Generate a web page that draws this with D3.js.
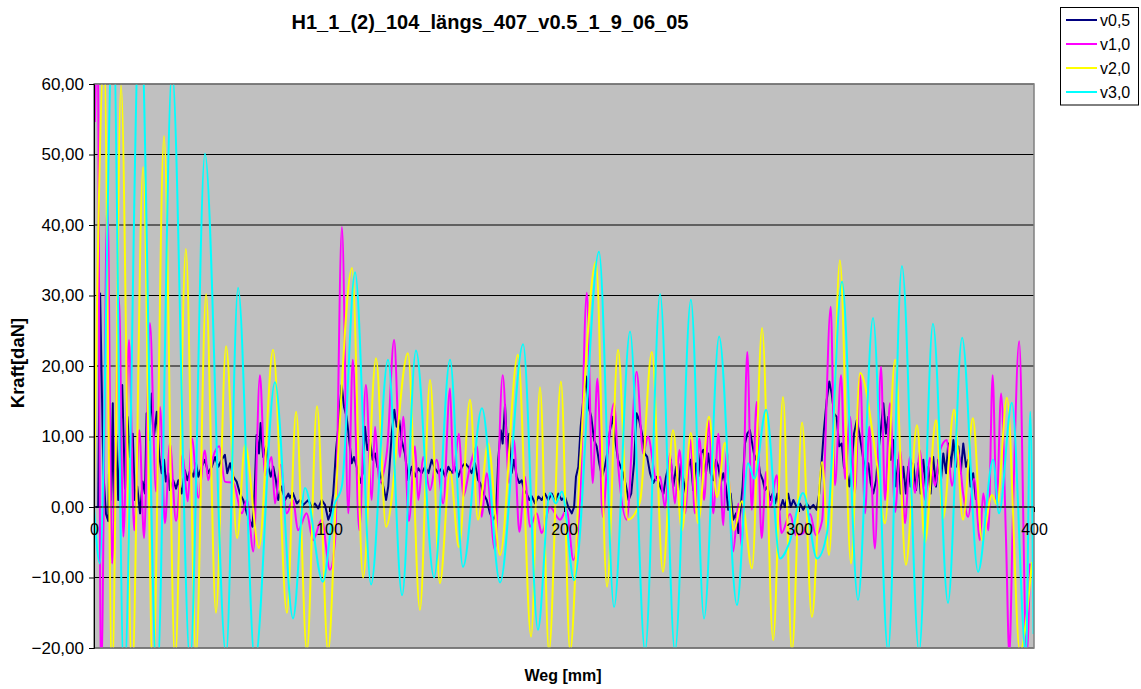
<!DOCTYPE html>
<html>
<head>
<meta charset="utf-8">
<script src="https://cdn.jsdelivr.net/npm/d3@7"></script>
<style>
  body { margin: 0; background: #ffffff; }
  text { font-family: Arial, "Liberation Sans", sans-serif; fill: #000; }
</style>
</head>
<body>
<svg id="chart" width="1141" height="689"></svg>
<script>
// Axis ticks
const xTicks = [0, 100, 200, 300, 400];
const yTicks = [-20, -10, 0, 10, 20, 30, 40, 50, 60];

// Series names and colours
const seriesNames = ["v0,5", "v1,0", "v2,0", "v3,0"];
const seriesColors = ["#000080", "#FF00FF", "#FFFF00", "#00FFFF"];

// Weg [mm], Kraft [daN] — v0,5
const v05 = [[0.9,0],[1.8,0],[2.6,30.3],[4.0,4.8],[5.1,-1],[6.1,-2],[6.5,8],[7.2,1],[8.0,14.7],[8.5,-2],[9.4,10.4],[10.3,1],
[12.0,17.3],[13.2,2.6],[14.2,12.8],[15.3,7.1],[16.5,10.4],[17.4,1],[18.4,2.9],[19.6,-0.9],[20.7,3.6],[21.7,1.9],[22.4,13.3],
[23.5,9.5],[24.6,16.1],[25.5,10],[26.7,13.5],[27.8,7.1],[28.8,4.8],[29.8,6.7],[30.6,3.6],[31.6,4.8],[32.3,2.4],[33.7,3.8],
[34.9,2.6],[35.9,3.8],[37.3,1.9],[38.7,5.2],[39.7,3.8],[40.9,5.2],[42.3,4.3],[43.4,6.2],[44.4,4.3],[45.8,5.7],[47.2,6.7],
[48.6,4.8],[50.1,5.7],[51.5,7.1],[52.9,5.7],[54.3,6.7],[55.7,7.4],[56.7,4.8],[57.9,6.2],[59.3,4.3],[60.7,3.6],[62.1,1.9],
[63.5,1],[65.0,-0.9],[66.4,-2],[67.4,-2.8],[68.2,1],[69.2,10.2],[70.2,7.6],[70.9,11.9],[72.0,7.1],[73.2,8.6],[74.2,5.7],
[75.2,4.3],[76.3,5.7],[77.4,3.8],[78.4,1],[79.9,2.9],[81.3,1],[82.7,1.9],[83.4,1.3],[84.6,2],[86.3,0.5],[87.7,1],[89.1,0.3],
[91.2,1],[92.6,0],[94.0,0.5],[95.4,-0.2],[96.9,1],[98.3,0.3],[99.7,-1.8],[100.7,-0.9],[101.8,1.9],[103.0,8.1],[104.0,11.4],
[105.4,17.3],[106.4,14.2],[107.5,12.8],[108.6,9.5],[109.7,6.2],[110.6,7.1],[111.8,5.7],[113.2,3.4],[114.3,4.8],[115.3,11.4],
[116.3,8.1],[117.4,9.5],[118.6,6.7],[119.6,7.6],[120.6,5.7],[121.7,4.8],[123.1,2.9],[124.3,1],[125.2,2.9],[126.7,10.4],
[127.8,13.8],[128.8,11.4],[129.9,12.3],[130.9,9.5],[132.3,7.6],[133.7,3.8],[135.2,5.7],[136.6,4.3],[138.0,5.5],[139.4,4.8],
[140.9,5.7],[142.3,4.8],[143.7,6.7],[145.1,5.5],[146.5,4.8],[148.0,5.5],[149.4,4.3],[150.8,5.7],[152.2,4.8],[153.6,5.7],
[155.0,4.3],[156.5,5.7],[157.9,6.2],[159.3,5.7],[160.7,4.8],[162.1,6.2],[163.5,3.8],[164.3,3.4],[165.7,1.9],[167.1,1],
[168.5,-0.9],[169.9,-1.8],[171.1,-0.9],[172.0,6.7],[173.1,10.9],[173.9,9],[174.9,14.5],[175.9,7.6],[176.7,10.4],[177.7,4.8],
[178.7,6.7],[179.9,4.3],[181.0,3.4],[182.0,3.8],[183.0,2.4],[184.1,1.9],[185.2,1],[186.3,1.5],[187.7,0.5],[189.1,1.5],
[190.5,1],[191.9,1.9],[193.3,1],[194.8,1.9],[196.2,0.8],[197.6,1.9],[199.0,1],[200.4,1.5],[201.8,0],[203.3,-0.9],[204.3,0],
[205.1,4.3],[206.1,5.7],[207.1,11.4],[208.2,15.2],[209.4,18.5],[210.5,14.2],[211.6,12.8],[212.8,9.5],[213.9,8.6],[215.0,6.2],
[216.2,4.3],[217.4,5.7],[218.4,7.6],[219.6,10.9],[220.7,12.8],[221.8,9.5],[223.0,6.7],[224.1,5.7],[225.2,4.8],[226.4,2.9],
[227.5,1],[228.6,1.9],[229.8,6.2],[230.9,13.3],[232.0,12.3],[233.2,10.4],[234.3,7.6],[235.4,7.1],[236.6,4.8],[238.0,3.4],
[239.4,4.3],[240.9,2.9],[242.3,1.9],[243.4,4.3],[244.4,5.7],[245.4,6.7],[246.5,2.9],[247.7,5.7],[248.6,2.4],[249.7,6.2],
[250.8,3.8],[251.9,1.9],[252.9,5.7],[253.9,6.7],[255.0,2.4],[256.2,6.2],[257.1,4.3],[258.2,7.6],[259.3,8.1],[260.4,4.8],
[261.4,7.6],[262.4,4.8],[263.5,3.8],[264.7,6.7],[265.7,5.7],[266.7,3.4],[267.8,4.8],[268.9,2.9],[269.9,-0.4],[270.9,1.9],
[272.0,-1.8],[273.2,-0.9],[274.2,-3.7],[275.2,0],[276.0,2.9],[277.0,9],[278.0,10.4],[279.1,10.9],[280.3,8.6],[281.3,6.7],
[282.3,7.6],[283.4,4.8],[284.6,3.8],[285.5,2.4],[286.5,2.9],[287.7,1],[288.8,1.9],[289.8,0.5],[290.8,1.9],[291.9,-0.4],
[293.1,1],[294.0,0],[295.4,1.9],[296.5,0],[297.6,1],[299.0,0],[300.4,0.5],[301.8,-0.4],[303.3,0.5],[304.7,-0.2],[306.1,0.3],
[307.5,-0.4],[308.6,1.9],[309.7,6.7],[310.6,10.9],[311.8,15.2],[312.9,17.8],[313.9,16.1],[314.9,13.3],[316.0,12.8],[317.1,8.6],
[318.2,9],[319.1,5.7],[320.3,4.8],[321.4,2.9],[322.4,5.7],[323.4,10.4],[324.6,12.3],[325.7,10.4],[327.4,6.7],[328.5,4.8],
[329.5,6.2],[330.5,3.4],[331.6,1.9],[332.8,3.8],[333.7,7.6],[334.8,10.9],[335.9,14.7],[337.0,10.4],[338.0,12.8],[339.0,6.7],
[340.1,9.5],[341.3,2.9],[342.3,6.7],[343.3,1.9],[344.4,5.7],[345.5,1.9],[346.5,5.7],[347.5,2.9],[348.6,6.2],[349.8,2.4],
[350.8,6.2],[351.8,1.9],[352.9,6.7],[354.0,2.9],[355.0,5.7],[356.0,1.9],[357.1,7.1],[358.3,2.9],[359.3,6.7],[360.3,3.4],
[361.4,7.6],[362.6,4.8],[363.5,9],[364.6,5.7],[365.7,9.5],[366.8,5.7],[367.8,8.6],[368.8,4.8],[369.9,9],[371.1,5.7],
[372.0,6.7],[373.0,2.9],[374.1,4.8],[375.3,1]];

// Weg [mm], Kraft [daN] — v1,0
const v10 = [[0.4,54.6],[1.5,68],[3.0,-25],[5.7,43.7],[7.7,-8],[8.9,5],[10.6,29.8],[12.5,-4.2],[14.9,23.7],[17.1,-3.3],
[19.3,10.9],[21.3,-4.4],[23.8,26.1],[26.4,2.2],[28.1,14.2],[30.2,-2.3],[32.3,9],[34.9,-2],[37.7,7.4],[39.9,0.8],[41.6,9.8],
[44.4,1.3],[47.2,8],[48.6,3.8],[50.6,7],[53.3,8.6],[55.7,3.6],[59.3,3.4],[62.9,-0.9],[65.1,1],[67.8,-6.3],[70.6,18.7],
[72.8,4.5],[75.6,7.1],[77.0,0.5],[79.4,6],[82.0,-0.9],[84.7,1],[86.8,-3.3],[90.5,-0.9],[93.2,-4.7],[96.9,-1.8],[100.4,-8.9],
[102.6,-4.7],[105.5,39.7],[108.2,-0.9],[110.1,20.9],[112.9,-3.3],[115.7,17.3],[118.2,1],[119.6,11.4],[121.4,3.4],[124.7,8],
[127.7,23.7],[130.2,7.1],[131.6,12.8],[134.0,-2],[136.6,8.6],[138.0,1],[140.1,7.1],[143.0,2.4],[145.8,6.7],[148.6,0.5],
[151.5,16.8],[152.9,4.8],[155.3,10.4],[157.1,1.5],[160.0,5.7],[162.9,8.6],[165.0,-1.4],[167.1,4.8],[170.6,-6.1],[173.9,18.7],
[176.7,3.4],[178.7,9.5],[181.0,-3.5],[183.4,4.3],[185.5,-2.8],[188.4,-0.9],[190.5,-3.7],[194.0,0],[198.3,-1.8],[201.1,-0.4],
[204.0,-7.5],[206.8,1],[209.7,30.4],[212.2,3.4],[214.2,18.2],[216.5,-1.4],[218.7,8],[221.3,14.7],[223.1,5.7],[226.7,-1.8],
[230.9,19.2],[233.7,7.6],[235.7,10],[239.4,3.8],[240.9,4.3],[243.0,-0.1],[245.1,7.6],[247.2,0.5],[249.1,8.1],[251.5,-0.9],
[253.9,9.5],[255.7,-0.9],[257.6,9.7],[259.6,1],[261.7,12.3],[263.5,-0.9],[265.7,10.4],[267.8,-2.6],[269.2,8.1],[272.0,-6.3],
[274.2,0.5],[275.6,-5.6],[278.0,22],[279.9,-0.4],[282.0,14.9],[284.1,-4.4],[286.0,5],[287.7,0],[290.5,4.5],[292.6,-3.7],
[296.2,-1],[298.7,-4],[301.8,-3.7],[304.7,-1],[307.2,-4],[309.8,-2],[313.5,28.4],[315.3,3.1],[317.9,18.7],[319.6,4],
[321.7,12.8],[323.8,2],[326.0,18.7],[328.1,-0.9],[329.9,11.4],[332.3,-5.9],[334.9,19.9],[336.6,1],[338.7,14.7],[340.9,-0.7],
[343.0,8.1],[345.1,-2.3],[347.2,7.1],[349.4,2],[351.5,8],[353.6,1],[355.7,7],[357.9,3],[360.0,8],[362.9,9.5],[365.1,3],
[367.7,8],[369.8,2],[372.0,-1.4],[374.5,4],[377.0,-4.7],[378.4,1.9],[380.6,-3.3],[382.4,18.7],[384.1,0],[386.0,16.1],
[388.1,-4.7],[389.5,-21],[391.1,0],[393.7,23.5],[396.9,-21],[398.3,-8]];

// Weg [mm], Kraft [daN] — v2,0
const v20 = [[0,2],[4.3,64],[7.7,-24],[11.5,59.8],[16.2,-24],[20.9,48.2],[25.1,-24],[29.8,52.6],[34.5,-22],[39.1,36.6],
[43.4,-21],[47.7,30.2],[51.9,-15],[56.2,22.8],[60.9,-4.4],[64.3,8.8],[70.2,-5.8],[76.2,22.3],[82.1,-15],[86,13.5],
[90.6,-20.5],[94.9,14.3],[99.6,-20.5],[103.4,4.5],[109.8,33.9],[114.5,-10],[120,21.1],[124.3,-2.8],[133.6,21.8],[138.7,-14.6],
[143,18],[147.2,-10.8],[151.5,5],[155.3,-5.7],[160,15.2],[163.4,-1.8],[167.7,9],[172.8,-6.8],[180.4,21.6],[186,-18.4],
[189.8,17],[193.6,-20.5],[198.7,17.8],[202.6,-20.5],[206.8,6],[213.6,34.8],[218.3,-11.3],[223,22.3],[227.2,-1.8],[232.3,0.7],
[237.4,22],[242.1,-9.2],[246.4,10.9],[250.2,-3.3],[254,10.5],[257,-2.3],[261.7,12.8],[265.1,1.4],[268.5,9.1],[272.3,-3.3],
[275.7,0.8],[280,-8.7],[284.3,25.4],[289,-18.9],[293.2,15.6],[297,-20.5],[301.3,12],[305.5,-15.6],[309.8,6.4],[312.8,-6.8],
[317.4,35],[322.1,-8],[326,19],[333.2,6],[336.6,-2.3],[340.9,20.9],[345.5,-8.2],[350.2,11.6],[353.6,-5],[358.3,12.3],
[361.3,-1.6],[366,13.8],[369.8,-1.8],[374,12.6],[377.9,-4.7],[382.1,1.7],[384.3,0.3],[388.5,15.5],[394,-20.5],[399.1,-7.8]];

// Weg [mm], Kraft [daN] — v3,0
const v30 = [[0,0],[2.5,-8],[8.1,70],[12.8,-25],[19.6,72],[26.8,-25],[33.2,62],[40.9,-22],[47.2,50.1],[56.2,-21],
[61.3,31.1],[68.5,-22],[77,17.7],[84.7,-15.8],[89.8,2.7],[97.4,-10.6],[102,0],[105.5,3],[111.1,33.3],[117.9,-11],
[125.1,20.9],[131.1,-12.5],[137,22.2],[144.7,-10],[151.5,20.9],[157,-8.5],[165.1,14],[172.8,-10.7],[182.6,23.1],[188.9,-17.4],
[194,2],[196.5,0.5],[199.1,2.2],[204.3,-10.4],[214.9,36.2],[221.3,-14.2],[228.1,24.9],[234.5,-20.5],[240.9,30.2],[247.2,-20.5],
[254,29.4],[259.6,-15.8],[266,24.2],[273.6,-13.9],[278.3,6.2],[281,4],[286,13.8],[291.9,-7.3],[296,-5],[301.7,2],
[307.7,-7.3],[311.9,-3.7],[318.3,32],[325.1,-13.2],[331.5,26.8],[337.9,-20.5],[343.8,34.2],[351.1,-20.5],[357,26],[363.4,-13.6],
[369.4,24],[376.2,-9.2],[382.6,6.7],[385.1,-0.9],[390.6,14.8],[396.6,-21],[398.4,13.5],[399.8,-18]];

const seriesData = [v05, v10, v20, v30];

const svg = d3.select("#chart");
const plot = { left: 94, right: 1034, top: 84, bottom: 648 };

const x = d3.scaleLinear().domain([0, 400]).range([plot.left, plot.right]);
const y = d3.scaleLinear().domain([-20, 60]).range([plot.bottom, plot.top]);
const fmtY = v => d3.format(".2f")(v).replace(".", ",");

// Title
svg.append("text")
  .attr("x", 490).attr("y", 29)
  .attr("text-anchor", "middle")
  .style("font-size", "20px").style("font-weight", "bold")
  .text("H1_1_(2)_104_längs_407_v0.5_1_9_06_05");

// Plot background
svg.append("rect")
  .attr("x", plot.left).attr("y", plot.top)
  .attr("width", plot.right - plot.left).attr("height", plot.bottom - plot.top)
  .attr("fill", "#C0C0C0");

// Horizontal gridlines
svg.append("g").selectAll("line").data(yTicks).join("line")
  .attr("x1", plot.left).attr("x2", plot.right)
  .attr("y1", d => y(d)).attr("y2", d => y(d))
  .attr("stroke", "#000").attr("stroke-width", 1);

// Clip region for the series
svg.append("clipPath").attr("id", "plotClip").append("rect")
  .attr("x", plot.left).attr("y", plot.top)
  .attr("width", plot.right - plot.left).attr("height", plot.bottom - plot.top);

const lineSmooth = d3.line().x(d => x(d[0])).y(d => y(d[1])).curve(d3.curveMonotoneX);
const lineStraight = d3.line().x(d => x(d[0])).y(d => y(d[1]));

const seriesG = svg.append("g").attr("clip-path", "url(#plotClip)");
seriesData.forEach((data, i) => {
  seriesG.append("path")
    .attr("d", i === 0 ? lineStraight(data) : lineSmooth(data))
    .attr("fill", "none")
    .attr("stroke", seriesColors[i])
    .attr("stroke-width", 2)
    .attr("stroke-linejoin", "round");
});

// Plot border
svg.append("rect")
  .attr("x", plot.left).attr("y", plot.top)
  .attr("width", plot.right - plot.left).attr("height", plot.bottom - plot.top)
  .attr("fill", "none").attr("stroke", "#808080").attr("stroke-width", 1.5);

// Y axis
const yAxis = d3.axisLeft(y).tickValues(yTicks).tickSize(5).tickPadding(5).tickFormat(fmtY);
const yG = svg.append("g").attr("transform", `translate(${plot.left},0)`).call(yAxis);
yG.select(".domain").attr("stroke", "#000");
yG.selectAll(".tick line").attr("stroke", "#000");
yG.selectAll("text").style("font-size", "17px").style("font-family", "Arial, 'Liberation Sans', sans-serif");

// X axis along the zero line
const xAxis = d3.axisBottom(x).tickValues(xTicks).tickSize(5).tickPadding(12).tickFormat(d3.format("d"));
const xG = svg.append("g").attr("transform", `translate(0,${y(0)})`).call(xAxis);
xG.select(".domain").attr("stroke", "#000").attr("d", `M${plot.left},0H${plot.right}`);
xG.selectAll(".tick line").attr("stroke", "#000");
xG.selectAll("text").style("font-size", "16px").style("font-family", "Arial, 'Liberation Sans', sans-serif");

// Axis titles
svg.append("text")
  .attr("x", 563).attr("y", 681)
  .attr("text-anchor", "middle")
  .style("font-size", "16px").style("font-weight", "bold")
  .text("Weg [mm]");

svg.append("text")
  .attr("transform", "translate(24,363) rotate(-90)")
  .attr("text-anchor", "middle")
  .style("font-size", "18.5px").style("font-weight", "bold")
  .text("Kraft[daN]");

// Legend
const legend = svg.append("g");
legend.append("rect")
  .attr("x", 1060.5).attr("y", 7.5).attr("width", 78).attr("height", 97.5)
  .attr("fill", "#fff").attr("stroke", "#000").attr("stroke-width", 1);
seriesNames.forEach((name, i) => {
  const ly = 20 + i * 24;
  legend.append("line")
    .attr("x1", 1066).attr("x2", 1097).attr("y1", ly).attr("y2", ly)
    .attr("stroke", seriesColors[i]).attr("stroke-width", 2);
  legend.append("text")
    .attr("x", 1100).attr("y", ly).attr("dy", "0.36em")
    .style("font-size", "16px")
    .text(name);
});
</script>
</body>
</html>
